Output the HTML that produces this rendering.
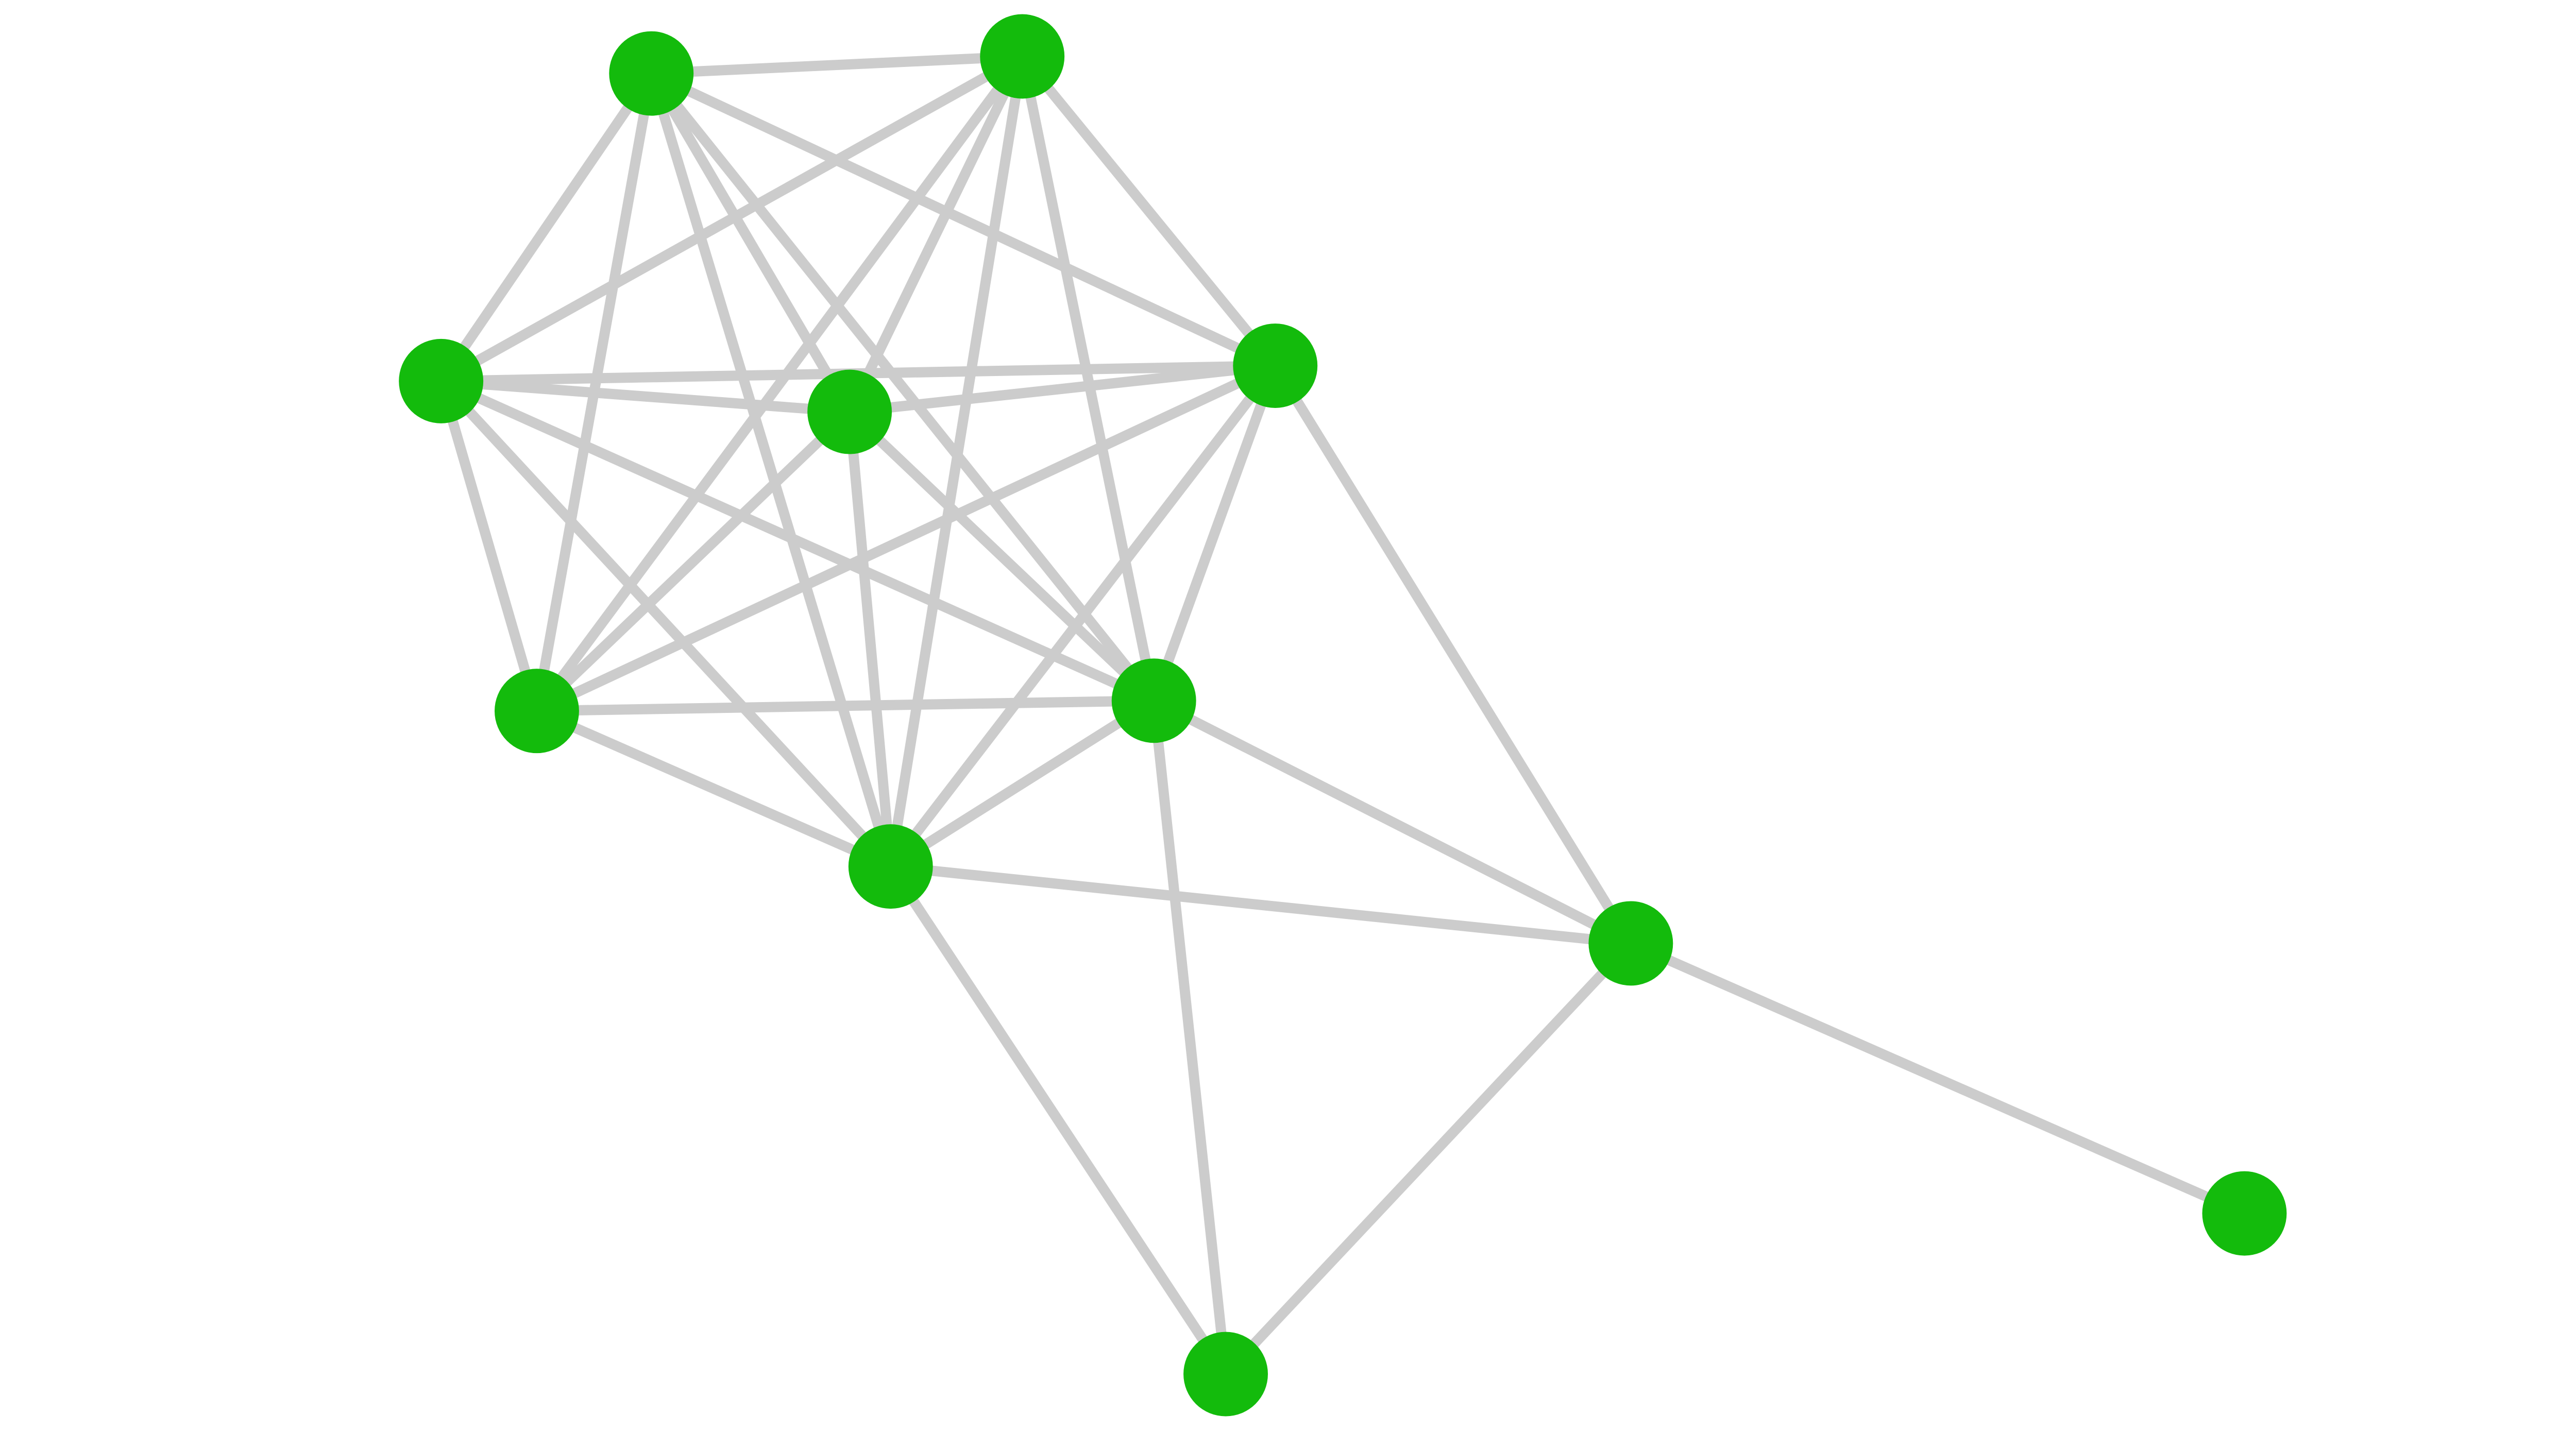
<!DOCTYPE html>
<html><head><meta charset="utf-8"><style>html,body{margin:0;padding:0;background:#fff}svg{display:block}</style></head>
<body>
<svg width="5200" height="2780" viewBox="0 0 1567.2 837.9" xmlns="http://www.w3.org/2000/svg">
<g stroke="#cccccc" stroke-width="6" fill="none">
<line x1="381" y1="43" x2="598" y2="33"/>
<line x1="381" y1="43" x2="258" y2="223"/>
<line x1="381" y1="43" x2="746" y2="214"/>
<line x1="381" y1="43" x2="314" y2="416"/>
<line x1="381" y1="43" x2="521" y2="507"/>
<line x1="381" y1="43" x2="497" y2="241"/>
<line x1="381" y1="43" x2="675" y2="410"/>
<line x1="598" y1="33" x2="258" y2="223"/>
<line x1="598" y1="33" x2="746" y2="214"/>
<line x1="598" y1="33" x2="314" y2="416"/>
<line x1="598" y1="33" x2="497" y2="241"/>
<line x1="598" y1="33" x2="521" y2="507"/>
<line x1="598" y1="33" x2="675" y2="410"/>
<line x1="258" y1="223" x2="746" y2="214"/>
<line x1="258" y1="223" x2="497" y2="241"/>
<line x1="258" y1="223" x2="314" y2="416"/>
<line x1="258" y1="223" x2="675" y2="410"/>
<line x1="258" y1="223" x2="521" y2="507"/>
<line x1="497" y1="241" x2="746" y2="214"/>
<line x1="497" y1="241" x2="314" y2="416"/>
<line x1="497" y1="241" x2="675" y2="410"/>
<line x1="497" y1="241" x2="521" y2="507"/>
<line x1="746" y1="214" x2="314" y2="416"/>
<line x1="746" y1="214" x2="675" y2="410"/>
<line x1="746" y1="214" x2="521" y2="507"/>
<line x1="746" y1="214" x2="954" y2="552"/>
<line x1="314" y1="416" x2="675" y2="410"/>
<line x1="314" y1="416" x2="521" y2="507"/>
<line x1="675" y1="410" x2="521" y2="507"/>
<line x1="675" y1="410" x2="954" y2="552"/>
<line x1="675" y1="410" x2="717" y2="804"/>
<line x1="521" y1="507" x2="954" y2="552"/>
<line x1="521" y1="507" x2="717" y2="804"/>
<line x1="954" y1="552" x2="1313" y2="710"/>
<line x1="954" y1="552" x2="717" y2="804"/>
</g>
<g fill="#13bb0c">
<circle cx="381" cy="43" r="24.7"/>
<circle cx="598" cy="33" r="24.7"/>
<circle cx="258" cy="223" r="24.7"/>
<circle cx="497" cy="241" r="24.7"/>
<circle cx="746" cy="214" r="24.7"/>
<circle cx="314" cy="416" r="24.7"/>
<circle cx="675" cy="410" r="24.7"/>
<circle cx="521" cy="507" r="24.7"/>
<circle cx="954" cy="552" r="24.7"/>
<circle cx="1313" cy="710" r="24.7"/>
<circle cx="717" cy="804" r="24.7"/>
</g>
</svg>
</body></html>
